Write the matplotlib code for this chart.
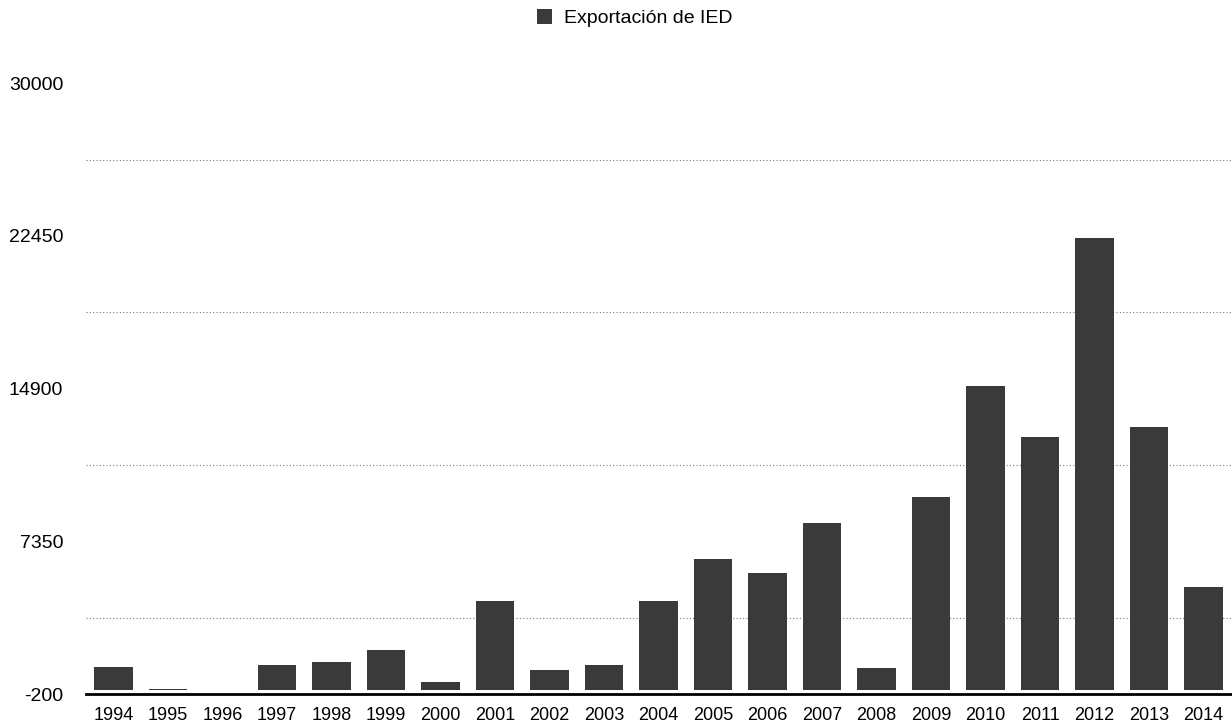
import matplotlib.pyplot as plt
import numpy as np

plt.rcParams['font.family'] = ['Liberation Sans', 'DejaVu Sans']

years = ["1994", "1995", "1996", "1997", "1998", "1999", "2000", "2001",
    "2002", "2003", "2004", "2005", "2006", "2007", "2008", "2009",
    "2010", "2011", "2012", "2013", "2014"]
ied_export = [1130, 50, 0, 1215, 1380, 1955, 395, 4420,
    970, 1245, 4420, 6470, 5780, 8240, 1100, 9560,
    15010, 12510, 22350, 13000, 5070]
y_ticks = [-200, 7350, 14900, 22450, 30000]
grid_lines = [3575, 11125, 18675, 26225]

fig = plt.figure(figsize=(12.32, 7.28), dpi=100)
ax = fig.add_axes([0.07, 0.0467, 0.929, 0.839])

x = np.arange(len(years))
bars = ax.bar(x, ied_export, width=0.7, color='#3a3a3a',
    label='Exportación de IED', zorder=3)

for g in grid_lines:
    ax.axhline(g, color='#777777', linestyle=(0, (1, 2)), linewidth=0.8, zorder=1)

ax.set_xlim(-0.5, len(years) - 0.5)
ax.set_ylim(-200, 30000)
ax.set_yticks(y_ticks)
ax.set_yticklabels([str(t) for t in y_ticks], fontsize=14)
ax.set_xticks(x)
ax.set_xticklabels(years, fontsize=13)
ax.tick_params(length=0)
ax.tick_params(axis='x', pad=9)
ax.tick_params(axis='y', pad=16.5)

for side in ['top', 'right', 'left']:
    ax.spines[side].set_visible(False)
ax.spines['bottom'].set_linewidth(2)
ax.spines['bottom'].set_color('black')

fig.legend(handles=[bars], loc='center', bbox_to_anchor=(0.515, 0.975),
    frameon=False, fontsize=14, handlelength=0.8, handleheight=0.8,
    handletextpad=0.6, borderpad=0)

fig.savefig('out.png', dpi=100)
